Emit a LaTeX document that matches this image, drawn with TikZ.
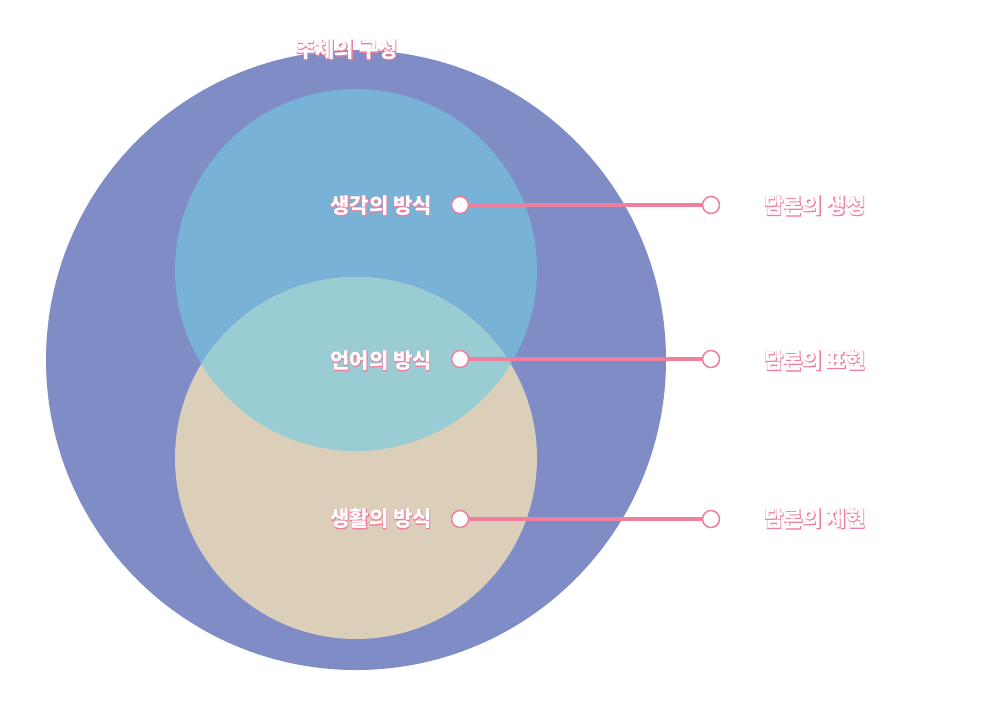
\documentclass[tikz,border=0pt]{standalone}
\usepackage{fontspec}
\newfontfamily\kr{Noto Sans CJK KR}
\newfontfamily\kro{Noto Sans CJK KR}[BoldFeatures={FakeBold=5},FakeBold=5]
\definecolor{bigc}{HTML}{7F8CC6}
\definecolor{topc}{HTML}{79B2D7}
\definecolor{botc}{HTML}{DBCFB9}
\definecolor{ovc}{HTML}{9ACDD3}
\definecolor{pk}{HTML}{EF7F9E}
\newcommand{\olt}[1]{\makebox[0pt][l]{\kro\bfseries\color{pk}#1}{\kr\bfseries\color{white}#1}}
\tikzset{lbl/.style={inner sep=0pt,font=\fontsize{21}{24}\selectfont},
dot/.style={circle,draw=pk,fill=white,line width=1.5pt,minimum size=17pt,inner sep=0pt},
conn/.style={draw=pk,line width=4pt}}
\begin{document}
\begin{tikzpicture}[x=1pt,y=-1pt]
\useasboundingbox (0,0) rectangle (992,702);
\fill[bigc] (356,360) circle (310);
\fill[topc] (356,270) circle (181);
\fill[botc] (356,458) circle (181);
\begin{scope}
\clip (356,270) circle (181);
\fill[ovc] (356,458) circle (181);
\end{scope}
\node[lbl] (t) at (347,50) {\olt{주체의 구성}};
\node[dot] (l1) at (460,205) {};
\node[dot] (r1) at (711,205) {};
\node[dot] (l2) at (460,359) {};
\node[dot] (r2) at (711,359) {};
\node[dot] (l3) at (460,519) {};
\node[dot] (r3) at (711,519) {};
\path[conn] (l1) -- (r1);
\path[conn] (l2) -- (r2);
\path[conn] (l3) -- (r3);
\node[lbl,anchor=east] (a1) at (432,206) {\olt{생각의 방식}};
\node[lbl,anchor=east] (a2) at (432,361) {\olt{언어의 방식}};
\node[lbl,anchor=east] (a3) at (432,519) {\olt{생활의 방식}};
\node[lbl,anchor=west] (b1) at (764,206) {\olt{담론의 생성}};
\node[lbl,anchor=west] (b2) at (764,361) {\olt{담론의 표현}};
\node[lbl,anchor=west] (b3) at (764,519) {\olt{담론의 재현}};
\end{tikzpicture}
\end{document}
